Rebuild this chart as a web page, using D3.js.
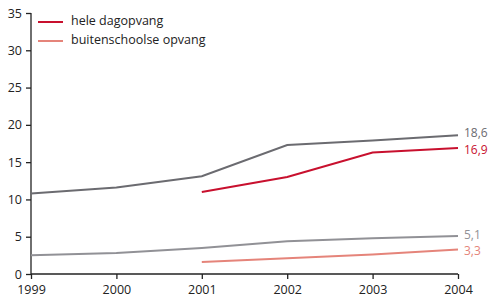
<!DOCTYPE html>
<html>
<head>
  <meta charset="utf-8" />
  <title>Opvang</title>
  <style>
    body { margin: 0; background: #fff; }
    text { font-family: "Open Sans", "Noto Sans", sans-serif; }
  </style>
  <script src="https://cdnjs.cloudflare.com/ajax/libs/d3/7.8.5/d3.min.js"></script>
</head>
<body>
  <div id="chartArea"></div>
  <script>
    var years = [1999, 2000, 2001, 2002, 2003, 2004];
    var yTicks = [0, 5, 10, 15, 20, 25, 30, 35];
    var totaalDag = [10.8, 11.6, 13.1, 17.3, 17.9, 18.6];
    var heleDag = [null, null, 11.0, 13.0, 16.3, 16.9];
    var totaalBso = [2.5, 2.8, 3.5, 4.4, 4.8, 5.1];
    var bso = [null, null, 1.6, 2.1, 2.6, 3.3];
    var endLabels = ['18,6', '16,9', '5,1', '3,3'];

    var series = [
      { values: totaalDag, color: '#6b6b70', label: endLabels[0], dy: -2 },
      { values: heleDag, color: '#c8102e', label: endLabels[1], dy: 2 },
      { values: totaalBso, color: '#919196', label: endLabels[2], dy: -1.5 },
      { values: bso, color: '#e5847a', label: endLabels[3], dy: 1 }
    ];

    var margin = { top: 13, right: 37, bottom: 28, left: 31 };
    var W = 495, H = 302;
    var w = W - margin.left - margin.right,
      h = H - margin.top - margin.bottom;

    var x = d3.scaleLinear().domain([1999, 2004]).range([0, w]);
    var y = d3.scaleLinear().domain([0, 35]).range([h, 0]);

    var svg = d3.select('#chartArea').append('svg')
      .attr('width', W)
      .attr('height', H)
      .append('g')
      .attr('transform', 'translate(' + margin.left + ',' + margin.top + ')');

    var yAxis = svg.append('g')
      .call(d3.axisLeft(y).tickValues(yTicks).tickSize(5).tickPadding(4));
    var xAxis = svg.append('g')
      .attr('transform', 'translate(0,' + h + ')')
      .call(d3.axisBottom(x).tickValues(years).tickFormat(d3.format('d')).tickSize(5).tickPadding(6));

    [yAxis, xAxis].forEach(function (a) {
      a.select('.domain').attr('stroke', '#222').attr('stroke-width', 1.3);
      a.selectAll('.tick line').attr('stroke', '#222').attr('stroke-width', 1.3);
      a.selectAll('text').attr('fill', '#222').style('font-size', '12.5px')
        .style('font-family', '"Open Sans", "Noto Sans", sans-serif');
    });
    yAxis.select('.domain').attr('d', 'M0,' + h + 'V0');
    xAxis.select('.domain').attr('d', 'M0,0H' + w);

    var line = d3.line()
      .defined(function (d) { return d != null; })
      .x(function (d, i) { return x(years[i]); })
      .y(function (d) { return y(d); });

    series.forEach(function (s) {
      svg.append('path')
        .attr('d', line(s.values))
        .attr('fill', 'none')
        .attr('stroke', s.color)
        .attr('stroke-width', 2);
      var last = s.values[s.values.length - 1];
      svg.append('text')
        .attr('x', x(2004) + 6)
        .attr('y', y(last) + s.dy)
        .attr('dy', '0.35em')
        .attr('fill', s.color)
        .style('font-size', '12px')
        .text(s.label);
    });

    var legend = [
      { label: 'hele dagopvang', color: '#c8102e' },
      { label: 'buitenschoolse opvang', color: '#e5847a' }
    ];
    var lg = svg.append('g').attr('transform', 'translate(7,9)');
    legend.forEach(function (l, i) {
      lg.append('line')
        .attr('x1', 0).attr('x2', 25)
        .attr('y1', i * 19).attr('y2', i * 19)
        .attr('stroke', l.color).attr('stroke-width', 2);
      lg.append('text')
        .attr('x', 33).attr('y', i * 19 - 1)
        .attr('dy', '0.35em')
        .attr('fill', '#222')
        .style('font-size', '12.5px')
        .text(l.label);
    });
  </script>
</body>
</html>
